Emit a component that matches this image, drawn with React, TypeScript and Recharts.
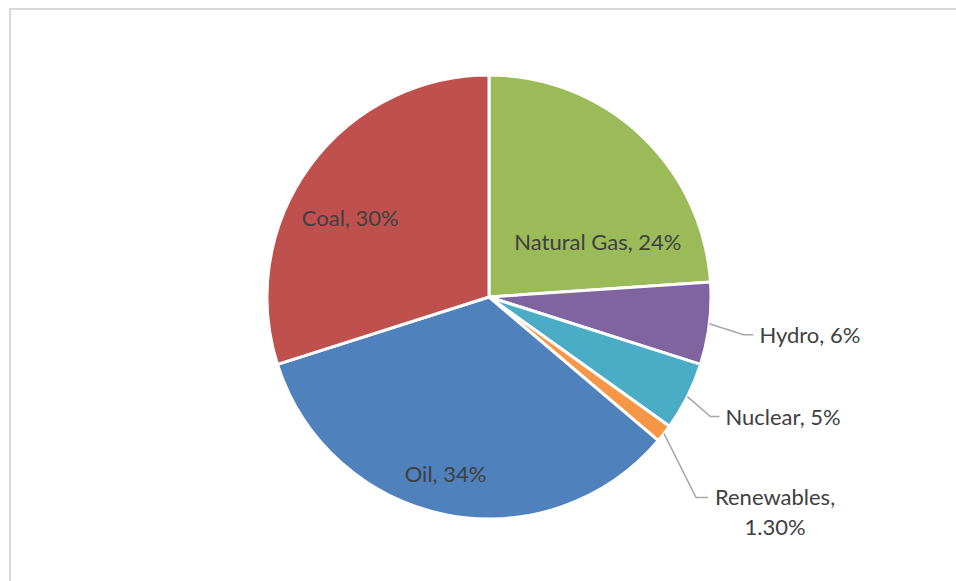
import React from "react"
import { PieChart, Pie, Cell } from "recharts"

const sources = ["Natural Gas", "Hydro", "Nuclear", "Renewables", "Oil", "Coal"]
const shares = [24, 6, 5, 1.3, 34, 30]
const colors = ["#9BBB59", "#8064A2", "#4BACC6", "#F79646", "#4F81BD", "#C0504D"]

// label placement: inside labels use a radius fraction + angle nudge,
// outside labels use an elbow offset from the slice edge
const labelLayout = [
    { inside: true, r: 0.55, da: -20 },
    { inside: false, ex: 34, ey: 11, tail: 10, anchor: "start" },
    { inside: false, ex: 23, ey: 20, tail: 9, anchor: "start" },
    { inside: false, ex: 32, ey: 64, tail: 12, anchor: "middle", wrap: true },
    { inside: true, r: 0.82, da: -2.5 },
    { inside: true, r: 0.72, da: 6.4 },
]

const data = sources.map((name, i) => ({ name, value: shares[i] }))

const RAD = Math.PI / 180
const FONT = "Lato, 'Open Sans', sans-serif"
const FS = 22

function fmt(v: number) {
    return Number.isInteger(v) ? `${v}%` : `${v.toFixed(2)}%`
}

function renderLabel(props: any) {
    const { cx, cy, midAngle, outerRadius, index, name, value } = props
    const cfg: any = labelLayout[index]
    const text = `${name}, ${fmt(value)}`
    if (cfg.inside) {
        const a = (midAngle + cfg.da) * RAD
        const r = outerRadius * cfg.r
        const x = cx + r * Math.cos(-a)
        const y = cy + r * Math.sin(-a)
        return (
            <text key={`l-${index}`} x={x} y={y} textAnchor="middle" dominantBaseline="central"
                fill="#404040" fontSize={FS} fontFamily={FONT}>
                {text}
            </text>
        )
    }
    const a = midAngle * RAD
    const sx = cx + outerRadius * Math.cos(-a)
    const sy = cy + outerRadius * Math.sin(-a)
    const mx = sx + cfg.ex
    const my = sy + cfg.ey
    const ex = mx + cfg.tail
    const tx = cfg.anchor === "middle" ? ex + 67 : ex + 6
    return (
        <g key={`l-${index}`}>
            <polyline points={`${sx},${sy} ${mx},${my} ${ex},${my}`} fill="none" stroke="#a6a6a6" strokeWidth={1.5} />
            {cfg.wrap ? (
                <text x={tx} y={my} textAnchor="middle" fill="#404040" fontSize={FS} fontFamily={FONT}>
                    <tspan x={tx} dy="0.35em">{`${name},`}</tspan>
                    <tspan x={tx} dy={30}>{fmt(value)}</tspan>
                </text>
            ) : (
                <text x={tx} y={my} textAnchor="start" dominantBaseline="central"
                    fill="#404040" fontSize={FS} fontFamily={FONT}>
                    {text}
                </text>
            )}
        </g>
    )
}

export default function App() {
    return (
        <>
            <style>{"html, body { overflow: hidden; }"}</style>
            <div style={{
                position: "fixed",
                left: 9,
                top: 8,
                width: 960,
                height: 600,
                borderTop: "2px solid #d9d9d9",
                borderLeft: "2px solid #d9d9d9",
                background: "#fff",
                overflow: "hidden",
            }}>
                <PieChart width={940} height={571} style={{ outline: "none" }}>
                    <Pie
                        data={data}
                        dataKey="value"
                        nameKey="name"
                        cx={473}
                        cy={282}
                        outerRadius={222}
                        startAngle={90}
                        endAngle={-270}
                        stroke="#ffffff"
                        strokeWidth={3}
                        label={renderLabel}
                        labelLine={false}
                        isAnimationActive={false}
                    >
                        {data.map((d, i) => (
                            <Cell key={d.name} fill={colors[i]} />
                        ))}
                    </Pie>
                </PieChart>
            </div>
        </>
    )
}
